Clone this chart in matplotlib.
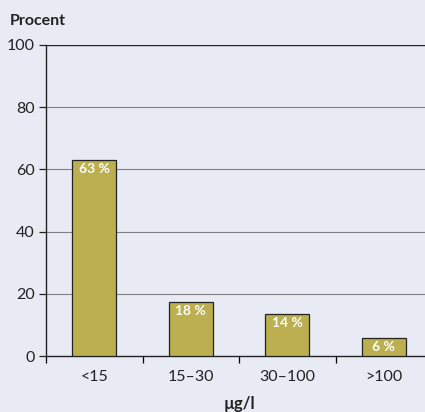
import matplotlib
matplotlib.use("Agg")
import matplotlib.pyplot as plt
import numpy as np

categories = ["<15", "15–30", "30–100", ">100"]
values = [63, 17.5, 13.5, 5.8]
labels = ["63 %", "18 %", "14 %", "6 %"]
yticks = [0, 20, 40, 60, 80, 100]

plt.rcParams['font.family'] = ['Lato', 'DejaVu Sans']
bg = "#e8ebf4"
bar_color = "#bcaf4f"

W, H = 425, 412
fig = plt.figure(figsize=(W/100, H/100), dpi=100, facecolor=bg)
ax = fig.add_axes([46/W, (H-356)/H, (432-46)/W, (356-45)/H])
ax.set_facecolor(bg)

x = np.arange(len(categories))
ax.bar(x, values, width=0.46, color=bar_color, edgecolor="#222222", linewidth=0.9, zorder=3)
for xi, v, lab in zip(x, values, labels):
    ax.text(xi, v - 1.0, lab, ha="center", va="top", color="white", fontsize=10, fontweight="bold", zorder=4)

ax.set_xlim(-0.5, len(categories) - 0.5)
ax.set_ylim(0, 100)
ax.set_yticks(yticks)
ax.tick_params(axis="y", direction="out", length=5, width=0.9, labelsize=11.5, pad=3, colors="#222222")
ax.set_xticks(np.arange(-0.5, len(categories), 1.0))
ax.set_xticklabels([])
ax.set_xticks(x, minor=True)
ax.set_xticklabels(categories, minor=True)
ax.tick_params(axis="x", which="major", direction="out", length=5, width=0.9)
ax.tick_params(axis="x", which="minor", length=0, labelsize=11.5, pad=10, colors="#222222")
for yv in yticks[1:-1]:
    ax.axhline(yv, color="#808080", linewidth=0.8, zorder=1)
ax.axhline(100, color="#222222", linewidth=1.0, zorder=1)

for s in ["top", "right"]:
    ax.spines[s].set_visible(False)
ax.spines["left"].set_color("#222222")
ax.spines["bottom"].set_color("#222222")
ax.spines["left"].set_linewidth(1.0)
ax.spines["bottom"].set_linewidth(1.0)

fig.text(10/W, 1 - 21/H, "Procent", ha="left", va="center", fontsize=11.5, fontweight="bold", color="#222222")
fig.text(239/W, 1 - 404/H, "µg/l", ha="center", va="center", fontsize=12, fontweight="bold", color="#222222")

fig.savefig("out.png", dpi=100, facecolor=bg)
